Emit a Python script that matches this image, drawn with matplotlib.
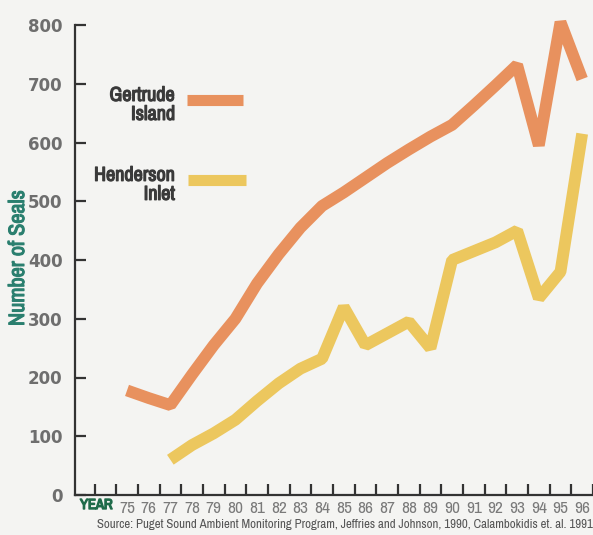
import matplotlib
matplotlib.use("Agg")
import matplotlib.pyplot as plt
from matplotlib import font_manager
import matplotlib.patheffects as pe
import numpy as np

# data
years = [75, 76, 77, 78, 79, 80, 81, 82, 83, 84, 85, 86, 87, 88, 89, 90, 91, 92, 93, 94, 95, 96]
gertrude = [178, 165, 153, 205, 255, 300, 360, 410, 455, 492, 515, 540, 565, 588, 610, 630, 663, 697, 732, 595, 805, 708]
years_h = [77, 78, 79, 80, 81, 82, 83, 84, 85, 86, 87, 88, 89, 90, 91, 92, 93, 94, 95, 96]
henderson = [60, 85, 105, 128, 160, 190, 215, 232, 320, 255, 275, 295, 250, 400, 415, 430, 450, 335, 380, 615]
yticks = [0, 100, 200, 300, 400, 500, 600, 700, 800]

orange = "#e8915e"
yellow = "#ecc75e"
bg = "#f4f4f2"

# the original uses a condensed type, take whatever narrow face is there
narrow = "DejaVu Sans"
for f in font_manager.fontManager.ttflist:
    if "Narrow" in f.name or "Condensed" in f.name:
        narrow = f.name
        break
nfam = [narrow, "DejaVu Sans"]


def fat(color, w=0.9):
    # fake a heavier weight with an outline of the same colour
    return [pe.withStroke(linewidth=w, foreground=color)]


fig = plt.figure(figsize=(5.93, 5.35), dpi=100, facecolor=bg)
ax = fig.add_axes([75 / 593, 40 / 535, 518 / 593, 470 / 535])
ax.set_facecolor(bg)

ax.plot(years, gertrude, color=orange, lw=8.5, solid_joinstyle="bevel",
        solid_capstyle="butt", clip_on=False)
ax.plot(years_h, henderson, color=yellow, lw=8.5, solid_joinstyle="bevel",
        solid_capstyle="butt", clip_on=False)

ax.set_xlim(72.6, 96.5)
ax.set_ylim(0, 800)

for s in ["top", "right"]:
    ax.spines[s].set_visible(False)
for s in ["left", "bottom"]:
    ax.spines[s].set_color("#333333")
    ax.spines[s].set_linewidth(1.6)

ax.set_yticks(yticks)
ax.set_yticklabels([str(v) for v in yticks], fontweight="bold", color="#6e6e6e",
                   fontsize=12, family="DejaVu Sans")
ax.tick_params(axis="y", direction="in", length=8, width=1.6, color="#333333", pad=9)

ax.set_xticks(years)
ax.set_xticklabels([str(y) for y in years], color="#7a7a7a", fontsize=12.5, family=nfam)
ax.set_xticks(np.arange(73.5, 97, 1), minor=True)
ax.tick_params(axis="x", which="major", length=0, pad=4)
ax.tick_params(axis="x", which="minor", direction="in", length=8, width=1.6, color="#333333")

# legend drawn by hand
ax.plot([0.216, 0.324], [0.840, 0.840], transform=ax.transAxes, color=orange, lw=8, solid_capstyle="butt")
ax.plot([0.218, 0.330], [0.670, 0.670], transform=ax.transAxes, color=yellow, lw=8, solid_capstyle="butt")
ax.text(0.193, 0.830, "Gertrude\nIsland", transform=ax.transAxes, ha="right", va="center",
        fontsize=14.5, color="#3a3a3a", linespacing=1.0, family=nfam,
        path_effects=fat("#3a3a3a", 0.9))
ax.text(0.193, 0.660, "Henderson\nInlet", transform=ax.transAxes, ha="right", va="center",
        fontsize=14.5, color="#3a3a3a", linespacing=1.0, family=nfam,
        path_effects=fat("#3a3a3a", 0.9))

fig.text(18 / 593, 1 - 258 / 535, "Number of Seals", rotation=90, ha="center", va="center",
         color="#2a7f6f", fontsize=16, family=nfam, path_effects=fat("#2a7f6f", 0.8))
fig.text(80 / 593, 1 - 505 / 535, "YEAR", ha="left", va="center",
         color="#1f6b4a", fontsize=10.5, family=nfam, path_effects=fat("#1f6b4a", 1.0))
fig.text(1.0, 1 - 525 / 535,
         "Source: Puget Sound Ambient Monitoring Program, Jeffries and Johnson, 1990, Calambokidis et. al. 1991",
         ha="right", va="center", color="#555555", fontsize=9.25, family=nfam)

fig.savefig("out.png", dpi=100, facecolor=bg)
